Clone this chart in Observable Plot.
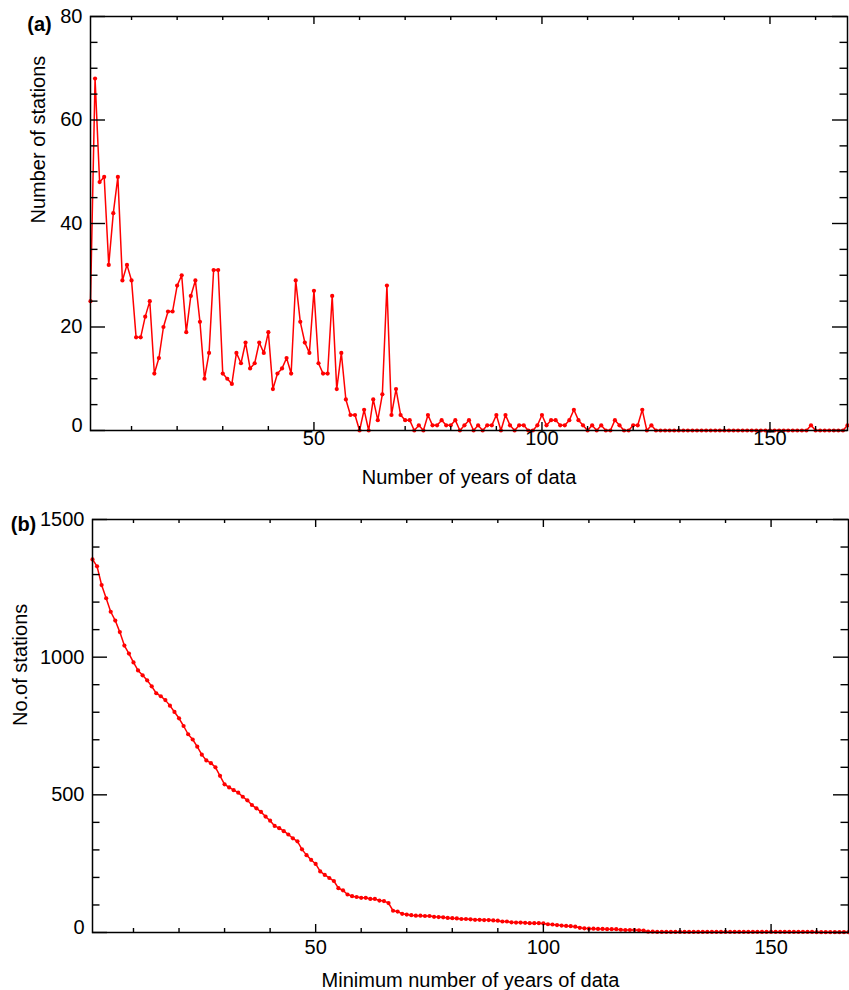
<!DOCTYPE html>
<html><head><meta charset="utf-8">
<script src="https://cdn.jsdelivr.net/npm/d3@7"></script>
<script src="https://cdn.jsdelivr.net/npm/@observablehq/plot@0.6"></script>
<style>
body{margin:0;background:#fff;font-family:"Liberation Sans",Arial,Helvetica,sans-serif}
#chart svg{display:block}
</style>
</head><body><div id="chart"></div>
<script>
// Panel (a): number of stations with exactly N years of data (N = 1..167)
const stationsPerLength = [
25,68,48,49,32,42,49,29,32,29,
18,18,22,25,11,14,20,23,23,28,
30,19,26,29,21,10,15,31,31,11,
10,9,15,13,17,12,13,17,15,19,
8,11,12,14,11,29,21,17,15,27,
13,11,11,26,8,15,6,3,3,0,
4,0,6,2,7,28,3,8,3,2,
2,0,1,0,3,1,1,2,1,1,
2,0,1,2,0,1,0,1,1,3,
0,3,1,0,1,1,0,0,1,3,
1,2,2,1,1,2,4,2,1,0,
1,0,1,0,0,2,1,0,0,1,
1,4,0,1,0,0,0,0,0,0,
0,0,0,0,0,0,0,0,0,0,
0,0,0,0,0,0,0,0,0,0,
0,0,0,0,0,0,0,0,1,0,
0,0,0,0,0,0,1];
// Panel (b): number of stations with at least N years of data
const stationsAtLeast = [
1355,1330,1262,1214,1165,1133,1091,1042,1013,981,
952,934,916,894,869,858,844,824,801,778,
750,720,701,675,646,625,615,600,569,538,
527,517,508,493,480,463,451,438,421,406,
387,379,368,356,342,331,302,281,264,249,
222,209,198,187,161,153,138,132,129,126,
126,122,122,116,114,107,79,76,68,65,
63,61,61,60,60,57,56,55,53,52,
51,49,49,48,46,46,45,45,44,43,
40,40,37,36,36,35,34,34,34,33,
30,29,27,25,24,23,21,17,15,14,
14,13,13,12,12,12,10,9,9,9,
8,7,3,3,2,2,2,2,2,2,
2,2,2,2,2,2,2,2,2,2,
2,2,2,2,2,2,2,2,2,2,
2,2,2,2,2,2,2,2,2,1,
1,1,1,1,1,1,1];
const years = stationsPerLength.map((_, i) => i + 1);

const xMajor = [50, 100, 150];
const xMinor = [10,20,30,40,60,70,80,90,110,120,130,140,160];
const yMajorA = [0, 20, 40, 60, 80];
const yMinorA = [5,10,15,25,30,35,45,50,55,65,70,75];
const yMajorB = [0, 500, 1000, 1500];
const yMinorB = [100,200,300,400,600,700,800,900,1100,1200,1300,1400];

const dataA = years.map((x, i) => ({x, y: stationsPerLength[i]}));
const dataB = years.map((x, i) => ({x, y: stationsAtLeast[i]}));

function tickMarks(W, H, xMaj, xMin, yMaj, yMin) {
  const s = {stroke: "black", strokeWidth: 1.4};
  return [
    Plot.tickX(xMaj, {x: d => d, insetTop: H - 8, ...s}),
    Plot.tickX(xMaj, {x: d => d, insetBottom: H - 8, ...s}),
    Plot.tickX(xMin, {x: d => d, insetTop: H - 4, ...s}),
    Plot.tickX(xMin, {x: d => d, insetBottom: H - 4, ...s}),
    Plot.tickY(yMaj, {y: d => d, insetRight: W - 15, ...s}),
    Plot.tickY(yMaj, {y: d => d, insetLeft: W - 15, ...s}),
    Plot.tickY(yMin, {y: d => d, insetRight: W - 7.5, ...s}),
    Plot.tickY(yMin, {y: d => d, insetLeft: W - 7.5, ...s})
  ];
}

function panel(o) {
  const W = 849 - o.ml - o.mr, H = o.h - o.mt - o.mb;
  return Plot.plot({
    width: 849, height: o.h,
    marginLeft: o.ml, marginRight: o.mr, marginTop: o.mt, marginBottom: o.mb,
    style: {fontFamily: '"Liberation Sans", Arial, sans-serif', fontSize: "20px", background: "#fff", color: "black"},
    x: {domain: [1, 167], axis: null},
    y: {domain: o.ydomain, axis: null},
    marks: [
      Plot.line(o.data, {x: "x", y: "y", stroke: "#ff0000", strokeWidth: 1.5}),
      Plot.dot(o.data, {x: "x", y: "y", r: 2.1, fill: "#ff0000", stroke: "none"}),
      ...tickMarks(W, H, xMajor, xMinor, o.yMaj, o.yMin),
      Plot.frame({stroke: "black", strokeWidth: 1.5}),
      Plot.axisX({ticks: xMajor, label: null, tickSize: 0, tickPadding: o.xpad, fontSize: 20, tickFormat: d => String(d)}),
      Plot.axisY({ticks: o.yMaj.filter(d => d !== 0), label: null, tickSize: 0, tickPadding: 8, fontSize: 20, tickFormat: d => String(d)}),
      Plot.axisY({ticks: [0], label: null, tickSize: 0, tickPadding: 8, dy: -5, fontSize: 20, tickFormat: d => String(d)}),
      Plot.text([o.xlabel], {frameAnchor: "bottom", lineAnchor: "middle", dy: o.xdy, fontSize: 20, fill: "black"}),
      Plot.text([o.ylabel], {frameAnchor: "left", lineAnchor: "middle", dx: o.ydx, rotate: -90, fontSize: 20, fill: "black"}),
      Plot.text([o.tag], {frameAnchor: "top-left", lineAnchor: "middle", dx: o.tagdx, dy: o.tagdy, fontSize: 20, fontWeight: "bold", fill: "black", textAnchor: "middle"})
    ]
  });
}

const chart = document.getElementById("chart");
chart.append(panel({
  h: 495, ml: 90, mr: 2, mt: 16, mb: 65, data: dataA, ydomain: [0, 80],
  yMaj: yMajorA, yMin: yMinorA, xpad: 0,
  xlabel: "Number of years of data", xdy: 47,
  ylabel: "Number of stations", ydx: -52,
  tag: "(a)", tagdx: -51, tagdy: 8
}));
chart.append(panel({
  h: 495, ml: 92, mr: 1, mt: 24, mb: 58, data: dataB, ydomain: [0, 1500],
  yMaj: yMajorB, yMin: yMinorB, xpad: 7,
  xlabel: "Minimum number of years of data", xdy: 48,
  ylabel: "No.of stations", ydx: -72,
  tag: "(b)", tagdx: -69, tagdy: 5
}));
</script>
</body></html>
